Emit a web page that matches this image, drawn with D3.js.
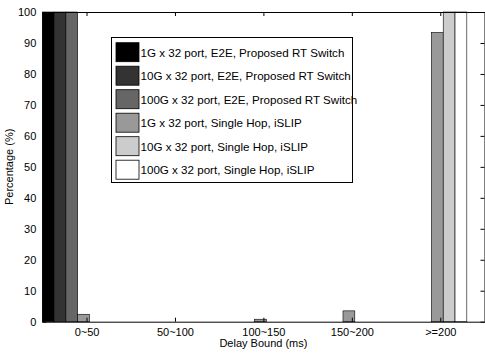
<!DOCTYPE html>
<html>
<head>
<meta charset="utf-8">
<script src="https://cdn.jsdelivr.net/npm/d3@7"></script>
<style>
body { margin: 0; background: #fff; }
svg { display: block; }
text { font-family: "Liberation Sans", Arial, Helvetica, sans-serif; }
</style>
</head>
<body>
<svg id="chart" width="485" height="354"></svg>
<script>
const categories = ["0~50", "50~100", "100~150", "150~200", ">=200"];
const seriesNames = [
  "1G x 32 port, E2E, Proposed RT Switch",
  "10G x 32 port, E2E, Proposed RT Switch",
  "100G x 32 port, E2E, Proposed RT Switch",
  "1G x 32 port, Single Hop, iSLIP",
  "10G x 32 port, Single Hop, iSLIP",
  "100G x 32 port, Single Hop, iSLIP"
];
const s1 = [100, 0, 0, 0, 0];
const s2 = [100, 0, 0, 0, 0];
const s3 = [100, 0, 0, 0, 0];
const s4 = [2.4, 0, 0.8, 3.5, 93.4];
const s5 = [0, 0, 0, 0, 100];
const s6 = [0, 0, 0, 0, 100];
const seriesValues = [s1, s2, s3, s4, s5, s6];
const seriesColors = ["#000000", "#333333", "#666666", "#999999", "#cccccc", "#ffffff"];
const yTicks = [0, 10, 20, 30, 40, 50, 60, 70, 80, 90, 100];

(function () {
const svg = d3.select("#chart");
const pl = 42.3, pr = 484.5, pt = 12, pb = 321.7;

const x = d3.scaleLinear().domain([0.5, 5.5]).range([pl, pr]);
const y = d3.scaleLinear().domain([0, 100]).range([pb, pt]);

const groupWidth = 0.8;
const barW = groupWidth / seriesValues.length;
const groupOffset = -0.1;

// bars
const bars = svg.append("g");
seriesValues.forEach((vals, si) => {
  vals.forEach((v, ci) => {
    const c = ci + 1 + groupOffset - groupWidth / 2 + si * barW;
    bars.append("rect")
      .attr("x", x(c))
      .attr("y", y(v))
      .attr("width", x(c + barW) - x(c))
      .attr("height", y(0) - y(v))
      .attr("fill", seriesColors[si])
      .attr("stroke", "#000")
      .attr("stroke-width", 0.6);
  });
});

// axes
const tickLen = 4;
const xAxisB = d3.axisBottom(x).tickValues([1, 2, 3, 4, 5]).tickFormat((d) => categories[d - 1]).tickSizeInner(-tickLen).tickSizeOuter(0).tickPadding(7);
const xAxisT = d3.axisTop(x).tickValues([1, 2, 3, 4, 5]).tickFormat("").tickSizeInner(-tickLen).tickSizeOuter(0);
const yAxisL = d3.axisLeft(y).tickValues(yTicks).tickSizeInner(-tickLen).tickSizeOuter(0).tickPadding(6);
const yAxisR = d3.axisRight(y).tickValues(yTicks).tickFormat("").tickSizeInner(-tickLen).tickSizeOuter(0);

function style(g) {
  g.selectAll("path").attr("stroke", "#000").attr("stroke-width", 1);
  g.selectAll("line").attr("stroke", "#000").attr("stroke-width", 1);
  g.selectAll("text").attr("fill", "#000").style("font-size", "11px").style("font-family", '"Liberation Sans", Arial, sans-serif');
}
svg.append("g").attr("transform", `translate(0,${pb})`).call(xAxisB).call(style);
svg.append("g").attr("transform", `translate(0,${pt})`).call(xAxisT).call(style);
svg.append("g").attr("transform", `translate(${pl},0)`).call(yAxisL).call(style);
svg.append("g").attr("transform", `translate(${pr},0)`).call(yAxisR).call(style);

// axis labels
svg.append("text")
  .attr("x", x(3))
  .attr("y", 347)
  .attr("text-anchor", "middle")
  .style("font-size", "11px")
  .text("Delay Bound (ms)");
svg.append("text")
  .attr("transform", `translate(13,${(pt + pb) / 2}) rotate(-90)`)
  .attr("text-anchor", "middle")
  .style("font-size", "11px")
  .text("Percentage (%)");

// legend
const lg = svg.append("g");
const lx = 111.5, ly = 37.5, lw = 241, lh = 145;
lg.append("rect").attr("x", lx).attr("y", ly).attr("width", lw).attr("height", lh)
  .attr("fill", "#fff").attr("stroke", "#000").attr("stroke-width", 1);
seriesNames.forEach((name, i) => {
  const ry = 42.7 + i * 23.5;
  lg.append("rect").attr("x", 116).attr("y", ry).attr("width", 23).attr("height", 19)
    .attr("fill", seriesColors[i]).attr("stroke", "#000").attr("stroke-width", 0.8);
  lg.append("text").attr("x", 140.5).attr("y", ry + 13.8)
    .style("font-size", "11.6px").text(name);
});
})();
</script>
</body>
</html>
